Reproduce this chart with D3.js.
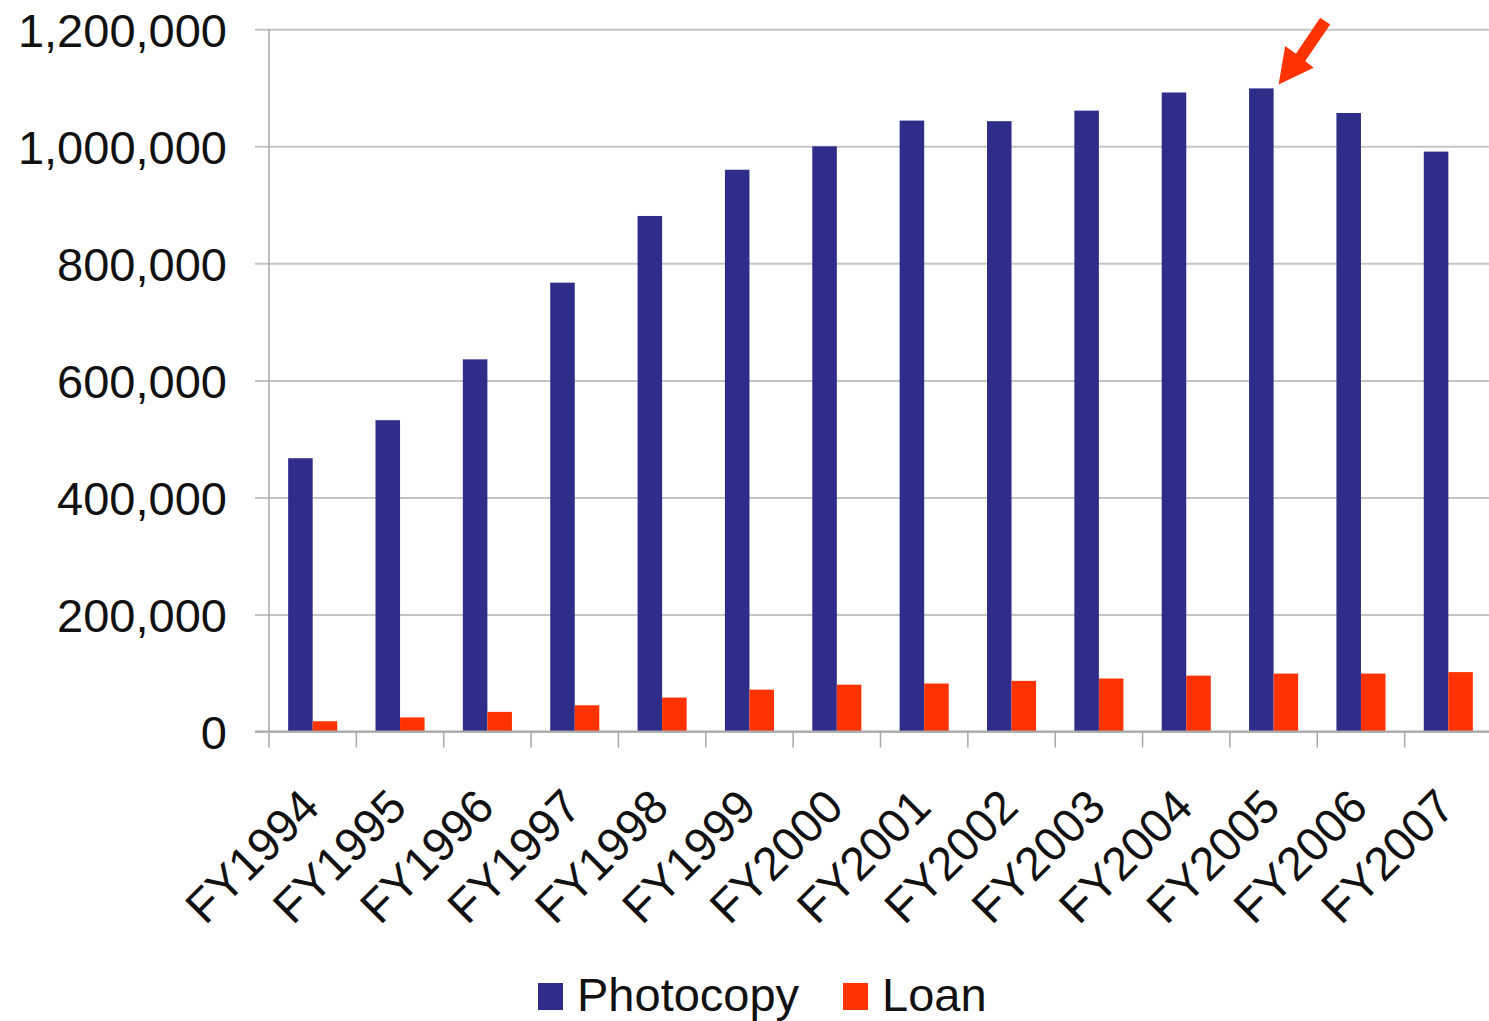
<!DOCTYPE html>
<html>
<head>
<meta charset="utf-8">
<script src="https://cdn.jsdelivr.net/npm/d3@7"></script>
<style>
  body { margin: 0; background: #fff; }
  svg { display: block; }
  text { font-family: "Liberation Sans", Arial, sans-serif; fill: #111; }
</style>
</head>
<body>
<svg width="1489" height="1021"></svg>
<script>
const years = ['FY1994', 'FY1995', 'FY1996', 'FY1997', 'FY1998', 'FY1999', 'FY2000',
  'FY2001', 'FY2002', 'FY2003', 'FY2004', 'FY2005', 'FY2006', 'FY2007'];

const photocopy = [467000, 532000, 636000, 767000, 881000, 960000, 1000000,
  1044000, 1043000, 1061000, 1092000, 1099000, 1057000, 991000];

const loan = [17500, 24000, 33500, 44800, 58000, 71500, 80000,
  82000, 86500, 90500, 95500, 99000, 99000, 101500];

const seriesNames = ['Photocopy', 'Loan'];
const seriesColors = ['#2e2e8a', '#ff3300'];
const yTicks = [0, 200000, 400000, 600000, 800000, 1000000, 1200000];

const svg = d3.select('svg');

const plotLeft = 269, plotRight = 1492, plotTop = 29.3, plotBottom = 731.5;

const x0 = d3.scaleBand()
  .domain(years)
  .range([plotLeft, plotRight]);

const x1 = d3.scaleBand()
  .domain(seriesNames)
  .range([0, x0.bandwidth()])
  .paddingOuter(0.78);

const y = d3.scaleLinear()
  .domain([0, 1200000])
  .range([plotBottom, plotTop]);

const color = d3.scaleOrdinal().domain(seriesNames).range(seriesColors);

// gridlines + y labels
const yAxis = svg.append('g')
  .attr('transform', `translate(${plotLeft},0)`)
  .call(d3.axisLeft(y)
    .tickValues(yTicks)
    .tickSize(-(1489 - plotLeft))
    .tickFormat(d3.format(',')));

yAxis.select('.domain').remove();
yAxis.selectAll('.tick line')
  .attr('x1', -14)
  .attr('stroke', '#c4c4c4')
  .attr('stroke-width', 2);
yAxis.selectAll('.tick text')
  .attr('x', -42)
  .attr('dy', '0.36em')
  .attr('fill', '#111')
  .style('font-size', '47px')
  .style('font-family', '"Liberation Sans", Arial, sans-serif');

// vertical axis line
svg.append('line')
  .attr('x1', plotLeft).attr('x2', plotLeft)
  .attr('y1', plotTop).attr('y2', plotBottom)
  .attr('stroke', '#a8a8a8')
  .attr('stroke-width', 1.5);

// bars
const rows = years.map((yr, i) => ({ year: yr, values: [photocopy[i], loan[i]] }));

svg.append('g')
  .selectAll('g')
  .data(rows)
  .join('g')
    .attr('transform', d => `translate(${x0(d.year)},0)`)
  .selectAll('rect')
  .data(d => d.values.map((v, k) => ({ key: seriesNames[k], value: v })))
  .join('rect')
    .attr('x', d => x1(d.key))
    .attr('width', x1.bandwidth())
    .attr('y', d => y(d.value))
    .attr('height', d => y(0) - y(d.value))
    .attr('fill', d => color(d.key));

// x axis
const xAxis = svg.append('g')
  .attr('transform', `translate(0,${plotBottom})`);

xAxis.append('line')
  .attr('x1', plotLeft - 14).attr('x2', 1489)
  .attr('stroke', '#a8a8a8')
  .attr('stroke-width', 2);

xAxis.selectAll('line.tick')
  .data(years)
  .join('line')
    .attr('class', 'tick')
    .attr('x1', d => x0(d)).attr('x2', d => x0(d))
    .attr('y1', 0).attr('y2', 16)
    .attr('stroke', '#a8a8a8')
    .attr('stroke-width', 1.5);

xAxis.selectAll('text')
  .data(years)
  .join('text')
    .attr('text-anchor', 'end')
    .attr('transform', d => `translate(${x0(d) + x0.bandwidth() / 2 + 9},78) rotate(-45)`)
    .style('font-size', '47px')
    .text(d => d);

// arrow pointing at the FY2005 peak
const peak = years.indexOf('FY2005');
const tipX = x0(years[peak]) + x1('Photocopy') + x1.bandwidth() + 5;
const tipY = y(photocopy[peak]) - 4;
const arrowShape = [[0, 0], [6.6, -38.3], [17.3, -30.7], [41.6, -66.7],
  [51.6, -60], [26.6, -23.3], [35, -16.7]];

svg.append('polygon')
  .attr('points', arrowShape.map(p => [tipX + p[0], tipY + p[1]].join(',')).join(' '))
  .attr('fill', '#ff3300');

// legend
const legendItems = [{ name: 'Photocopy', x: 538 }, { name: 'Loan', x: 843 }];

const legend = svg.append('g')
  .selectAll('g')
  .data(legendItems)
  .join('g')
    .attr('transform', d => `translate(${d.x},983)`);

legend.append('rect')
  .attr('width', 25)
  .attr('height', 27)
  .attr('fill', d => color(d.name));

legend.append('text')
  .attr('x', 39)
  .attr('y', 28)
  .style('font-size', '47px')
  .text(d => d.name);
</script>
</body>
</html>
